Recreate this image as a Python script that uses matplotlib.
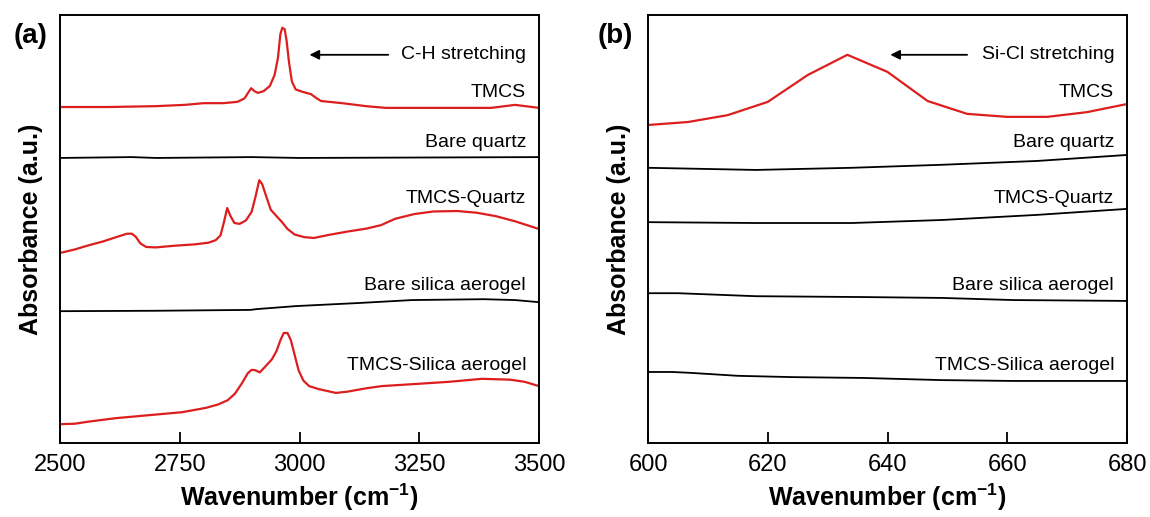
import matplotlib
matplotlib.use("Agg")
import matplotlib.pyplot as plt

plt.rcParams["font.family"] = ["Liberation Sans", "DejaVu Sans"]
plt.rcParams["mathtext.fontset"] = "custom"
plt.rcParams["mathtext.rm"] = "Liberation Sans:bold"
plt.rcParams["mathtext.default"] = "rm"

RED = "#dc1e1e"

# ---- panel (a): 2500-3500 cm-1 ----
a_tmcs_x = [2500, 2600, 2700, 2760, 2800, 2840, 2870, 2885, 2899, 2906, 2913, 2925, 2938, 2948, 2955,
            2960, 2964, 2969, 2973, 2978, 2984, 2992, 3005, 3024, 3035, 3045, 3089, 3139, 3180, 3300,
            3400, 3450, 3500]
a_tmcs_y = [0.785, 0.785, 0.787, 0.790, 0.794, 0.794, 0.797, 0.805, 0.829, 0.822, 0.818, 0.822, 0.834, 0.860, 0.900,
            0.955, 0.970, 0.967, 0.940, 0.890, 0.845, 0.826, 0.821, 0.815, 0.806, 0.799, 0.794, 0.787, 0.783, 0.783,
            0.783, 0.790, 0.783]

a_quartz_x = [2500, 2650, 2700, 2900, 3000, 3500]
a_quartz_y = [0.666, 0.668, 0.666, 0.668, 0.666, 0.668]

a_tmcs_quartz_x = [2500, 2530, 2560, 2590, 2620, 2640, 2650, 2658, 2668, 2680, 2700, 2740, 2780, 2810, 2825,
                   2835, 2842, 2849, 2856, 2864, 2875, 2888, 2900, 2908, 2916, 2922, 2930, 2940, 2952, 2962,
                   2975, 2990, 3010, 3030, 3060, 3100, 3140, 3170, 3200, 3240, 3280, 3330, 3370, 3410, 3450, 3500]
a_tmcs_quartz_y = [0.444, 0.452, 0.462, 0.471, 0.482, 0.489, 0.489, 0.482, 0.466, 0.458, 0.457, 0.461, 0.464, 0.468, 0.474,
                   0.485, 0.515, 0.549, 0.530, 0.514, 0.512, 0.520, 0.540, 0.575, 0.614, 0.605, 0.578, 0.545, 0.530, 0.518,
                   0.500, 0.487, 0.481, 0.479, 0.486, 0.494, 0.501, 0.509, 0.524, 0.535, 0.541, 0.542, 0.538, 0.530, 0.518, 0.500]

a_aerogel_x = [2500, 2700, 2897, 2912, 2994, 3122, 3235, 3385, 3450, 3500]
a_aerogel_y = [0.308, 0.309, 0.311, 0.313, 0.320, 0.327, 0.334, 0.336, 0.334, 0.329]

a_tmcs_aerogel_x = [2500, 2530, 2560, 2616, 2685, 2755, 2804, 2830, 2850, 2865, 2880, 2892, 2900, 2908, 2917,
                    2928, 2942, 2952, 2960, 2967, 2975, 2982, 2990, 2998, 3008, 3020, 3040, 3076, 3100, 3140,
                    3172, 3243, 3312, 3381, 3440, 3470, 3500]
a_tmcs_aerogel_y = [0.044, 0.045, 0.050, 0.058, 0.065, 0.072, 0.082, 0.090, 0.100, 0.115, 0.140, 0.163, 0.171, 0.170, 0.165,
                    0.178, 0.195, 0.215, 0.240, 0.257, 0.257, 0.240, 0.205, 0.170, 0.146, 0.133, 0.126, 0.117, 0.120, 0.128,
                    0.133, 0.138, 0.143, 0.150, 0.148, 0.143, 0.133]

# ---- panel (b): 600-680 cm-1 ----
b_tmcs_x = [600, 606.7, 613.3, 620, 626.7, 633.3, 640, 646.7, 653.3, 660, 666.7, 673.3, 680]
b_tmcs_y = [0.743, 0.750, 0.766, 0.797, 0.860, 0.907, 0.867, 0.799, 0.769, 0.762, 0.762, 0.773, 0.792]

b_quartz_x = [600, 618, 634, 649, 665, 680]
b_quartz_y = [0.643, 0.638, 0.643, 0.650, 0.659, 0.673]

b_tmcs_quartz_x = [600, 618, 634, 649, 665, 680]
b_tmcs_quartz_y = [0.516, 0.514, 0.514, 0.521, 0.533, 0.547]

b_aerogel_x = [600, 605, 618, 636, 649, 661, 680]
b_aerogel_y = [0.350, 0.350, 0.343, 0.341, 0.339, 0.334, 0.332]

b_tmcs_aerogel_x = [600, 604, 607, 615, 624, 636, 649, 661, 667, 680]
b_tmcs_aerogel_y = [0.166, 0.166, 0.164, 0.157, 0.154, 0.152, 0.147, 0.145, 0.145, 0.145]

a_ticks = [2500, 2750, 3000, 3250, 3500]
b_ticks = [600, 620, 640, 660, 680]

labels = ["TMCS", "Bare quartz", "TMCS-Quartz", "Bare silica aerogel", "TMCS-Silica aerogel"]
label_ypos = [0.818, 0.701, 0.572, 0.369, 0.182]


def style_axes(ax, xlim, ticks):
    ax.set_xlim(*xlim)
    ax.set_ylim(0, 1)
    ax.set_xticks(ticks)
    ax.set_yticks([])
    ax.tick_params(axis="x", direction="in", length=8, width=1.3, labelsize=17, pad=8)
    for s in ax.spines.values():
        s.set_linewidth(1.4)
    ax.set_xlabel(r"Wavenumber (cm$^{-1}$)", fontsize=18, fontweight="bold", labelpad=4)
    ax.set_ylabel("Absorbance (a.u.)", fontsize=18, fontweight="bold", labelpad=12)


fig = plt.figure(figsize=(11.5, 5.17), dpi=100)
ax1 = fig.add_axes([0.0522, 0.1431, 0.4165, 0.8279])
ax2 = fig.add_axes([0.5635, 0.1431, 0.4165, 0.8279])

ax1.plot(a_tmcs_x, a_tmcs_y, color=RED, lw=1.6)
ax1.plot(a_quartz_x, a_quartz_y, color="black", lw=1.3)
ax1.plot(a_tmcs_quartz_x, a_tmcs_quartz_y, color=RED, lw=1.6)
ax1.plot(a_aerogel_x, a_aerogel_y, color="black", lw=1.3)
ax1.plot(a_tmcs_aerogel_x, a_tmcs_aerogel_y, color=RED, lw=1.6)
style_axes(ax1, (2500, 3500), a_ticks)

ax2.plot(b_tmcs_x, b_tmcs_y, color=RED, lw=1.6)
ax2.plot(b_quartz_x, b_quartz_y, color="black", lw=1.3)
ax2.plot(b_tmcs_quartz_x, b_tmcs_quartz_y, color="black", lw=1.3)
ax2.plot(b_aerogel_x, b_aerogel_y, color="black", lw=1.3)
ax2.plot(b_tmcs_aerogel_x, b_tmcs_aerogel_y, color="black", lw=1.3)
style_axes(ax2, (600, 680), b_ticks)

for ax in (ax1, ax2):
    for lab, yp in zip(labels, label_ypos):
        ax.text(0.973, yp, lab, transform=ax.transAxes, ha="right", va="center", fontsize=14)

ax1.text(0.973, 0.907, "C-H stretching", transform=ax1.transAxes, ha="right", va="center", fontsize=14)
ax1.annotate("", xy=(0.515, 0.907), xytext=(0.691, 0.907), xycoords="axes fraction",
             arrowprops=dict(arrowstyle="-|>", color="black", lw=1.3, mutation_scale=14))
ax2.text(0.975, 0.907, "Si-Cl stretching", transform=ax2.transAxes, ha="right", va="center", fontsize=14)
ax2.annotate("", xy=(0.500, 0.907), xytext=(0.672, 0.907), xycoords="axes fraction",
             arrowprops=dict(arrowstyle="-|>", color="black", lw=1.3, mutation_scale=14))

fig.text(0.012, 0.93, "(a)", fontsize=20, fontweight="bold", va="center")
fig.text(0.520, 0.93, "(b)", fontsize=20, fontweight="bold", va="center")

fig.savefig("out.png", dpi=100)
